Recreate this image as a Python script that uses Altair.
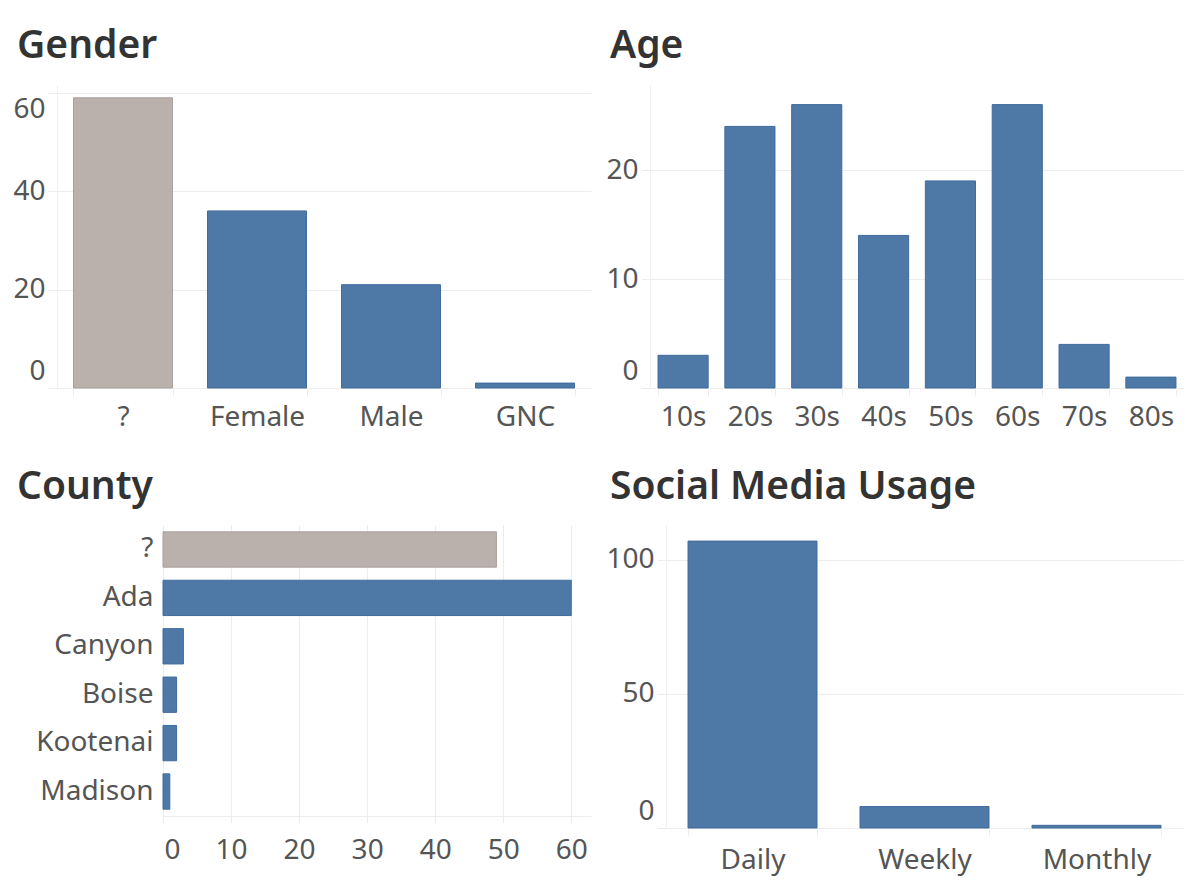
import altair as alt
import pandas as pd

gender_cats = ["?", "Female", "Male", "GNC"]
gender_vals = [59, 36, 21, 1]

age_cats = ["10s", "20s", "30s", "40s", "50s", "60s", "70s", "80s"]
age_vals = [3, 24, 26, 14, 19, 26, 4, 1]

county_cats = ["?", "Ada", "Canyon", "Boise", "Kootenai", "Madison"]
county_vals = [49, 60, 3, 2, 2, 1]

social_cats = ["Daily", "Weekly", "Monthly"]
social_vals = [107, 8, 1]

BLUE = "#4e79a7"
GRAY = "#bab0ac"
BLUE_EDGE = "#3f6c9d"
GRAY_EDGE = "#aaa19d"
GRID = "#ececec"
LABEL = "#555555"
TITLE = "#333333"
FONT = "Noto Sans"


def frame(cats, vals):
    return pd.DataFrame({"cat": cats, "val": vals})


def fill_enc():
    return alt.condition(alt.datum.cat == "?", alt.value(GRAY), alt.value(BLUE))


def stroke_enc():
    return alt.condition(alt.datum.cat == "?", alt.value(GRAY_EDGE), alt.value(BLUE_EDGE))


def ttl(text, dx, offset):
    return alt.TitleParams(text=text, anchor="start", frame="group", dx=dx, offset=offset,
                           fontSize=39, fontWeight=600, color=TITLE, font=FONT,
                           baseline="top")


def band_axis(pad):
    return alt.Axis(title=None, labelAngle=0, tickBand="extent", ticks=True, tickSize=8,
                    tickColor=GRID, domain=True, domainColor=GRID, labelPadding=pad,
                    grid=False, labelFontSize=28, labelColor=LABEL, labelFont=FONT)


def quant_axis(vals, extent):
    return alt.Axis(title=None, values=vals, grid=True, gridColor=GRID, ticks=True,
                    tickSize=9, tickColor=GRID, domain=True, domainColor="#f0f0f0",
                    labelPadding=3, labelFlush=10, labelFlushOffset=-3,
                    minExtent=extent, maxExtent=extent, labelFontSize=28,
                    labelColor=LABEL, labelFont=FONT)


def vbar(cats, vals, title, dx, offset, ymax, yvals, extent, width, height, pi, po, pad):
    return alt.Chart(frame(cats, vals)).mark_bar(strokeWidth=1).encode(
        x=alt.X("cat:N", sort=None,
                scale=alt.Scale(paddingInner=pi, paddingOuter=po),
                axis=band_axis(pad)),
        y=alt.Y("val:Q", scale=alt.Scale(domain=[0, ymax], nice=False),
                axis=quant_axis(yvals, extent)),
        fill=fill_enc(),
        stroke=stroke_enc(),
    ).properties(width=width, height=height, title=ttl(title, dx, offset))


gender = vbar(gender_cats, gender_vals, "Gender", -40, 19, 61.6, [0, 20, 40, 60], 49,
              534, 303, 0.261, 0.123, 7)
age = vbar(age_cats, age_vals, "Age", -40, 19, 27.8, [0, 10, 20], 40,
           534, 303, 0.25, 0.12, 7)
social = vbar(social_cats, social_vals, "Social Media Usage", -56, 18, 113, [0, 50, 100], 57,
              517, 303, 0.25, 0.128, 10)

# County shares the first column's origin with Gender; its bars start further right,
# so the value scale's pixel range begins after the category labels.
county = alt.Chart(frame(county_cats, county_vals)).mark_bar(strokeWidth=1).encode(
    y=alt.Y("cat:N", sort=None,
            scale=alt.Scale(paddingInner=0.27, paddingOuter=0.141),
            axis=alt.Axis(title=None, ticks=False, domain=False, labelPadding=10,
                          offset=-106, minExtent=49, maxExtent=49, labelFontSize=28,
                          labelColor=LABEL, labelFont=FONT)),
    x=alt.X("val:Q", scale=alt.Scale(domain=[0, 62.9], nice=False, range=[106, 534]),
            axis=alt.Axis(title=None, values=[0, 10, 20, 30, 40, 50, 60], grid=True,
                          gridColor=GRID, ticks=True, tickSize=7, tickColor=GRID,
                          domain=True, domainColor=GRID, labelPadding=13,
                          labelFlush=10, labelFlushOffset=-1, labelFontSize=28,
                          labelColor=LABEL, labelFont=FONT)),
    fill=fill_enc(),
    stroke=stroke_enc(),
).properties(width=534, height=291, title=ttl("County", -40, 18))

chart = alt.concat(gender, age, county, social, columns=2).properties(
    align={"row": "each", "column": "none"},
    spacing={"row": 37, "column": 14},
    padding={"left": 0, "top": 19, "right": 0, "bottom": 12},
    background="white",
).configure_view(stroke=None)

chart.save("out.html", embed_options={"renderer": "svg", "actions": False})
